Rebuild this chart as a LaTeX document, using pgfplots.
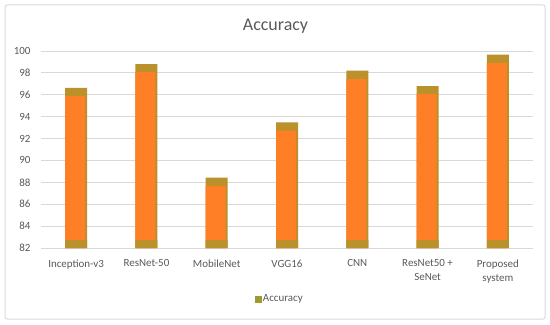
\documentclass[border=0pt]{standalone}
\usepackage{pgfplots}
\pgfplotsset{compat=1.18}
\usepackage{fontspec}
\setmainfont{Carlito}
\definecolor{txt}{HTML}{595959}
\definecolor{gridc}{HTML}{D9D9D9}
\definecolor{orng}{HTML}{FF7F27}
\definecolor{band}{HTML}{BA912A}
\definecolor{leg}{HTML}{A09A2E}
\begin{document}
\begin{tikzpicture}[x=1bp,y=1bp]
\path[use as bounding box] (0,0) rectangle (550,324);
\draw[gridc, rounded corners=2bp, line width=1bp] (5,5) rectangle (545,319);
\node[txt, font=\fontsize{18}{20}\selectfont] at (275.5,298) {Accuracy};
\begin{axis}[at={(41bp,76bp)}, anchor=south west, scale only axis,
  width=492bp, height=197bp,
  xmin=-0.5, xmax=6.5, ymin=82, ymax=100,
  ytick={82,84,...,100}, xtick={0,...,6},
  xticklabels={Inception-v3, ResNet-50, MobileNet, VGG16, CNN, {ResNet50 +\\SeNet}, {Proposed\\system}},
  axis line style={draw=none}, major tick style={draw=none},
  ymajorgrids, grid style={gridc, line width=0.8bp},
  /pgf/number format/assume math mode=true,
  ticklabel style={font=\fontsize{11}{14}\selectfont, text=txt},
  xticklabel style={align=center, yshift=-4bp},
  yticklabel style={xshift=-7bp},
  ybar, bar width=22bp,
  legend style={at={(0.485,-0.26)}, anchor=center, draw=none, fill=none,
    font=\fontsize{11}{13}\selectfont, text=txt},
  legend image code/.code={\fill[leg] (1bp,-3bp) rectangle (7bp,3bp);},
]
\addlegendimage{leg}
\addplot[fill=band, draw=none, bar shift=0pt, forget plot] coordinates {(0,96.62) (1,98.81) (2,88.42) (3,93.48) (4,98.2) (5,96.8) (6,99.66)};
\addplot[fill=orng, draw=none, bar width=20bp, bar shift=-1bp, forget plot] coordinates {(0,95.87) (1,98.06) (2,87.67) (3,92.73) (4,97.45) (5,96.05) (6,98.91)};
\addplot[fill=band, draw=none, bar shift=0pt, forget plot] coordinates {(0,82.73) (1,82.73) (2,82.73) (3,82.73) (4,82.73) (5,82.73) (6,82.73)};
\legend{Accuracy}
\end{axis}
\end{tikzpicture}
\end{document}
